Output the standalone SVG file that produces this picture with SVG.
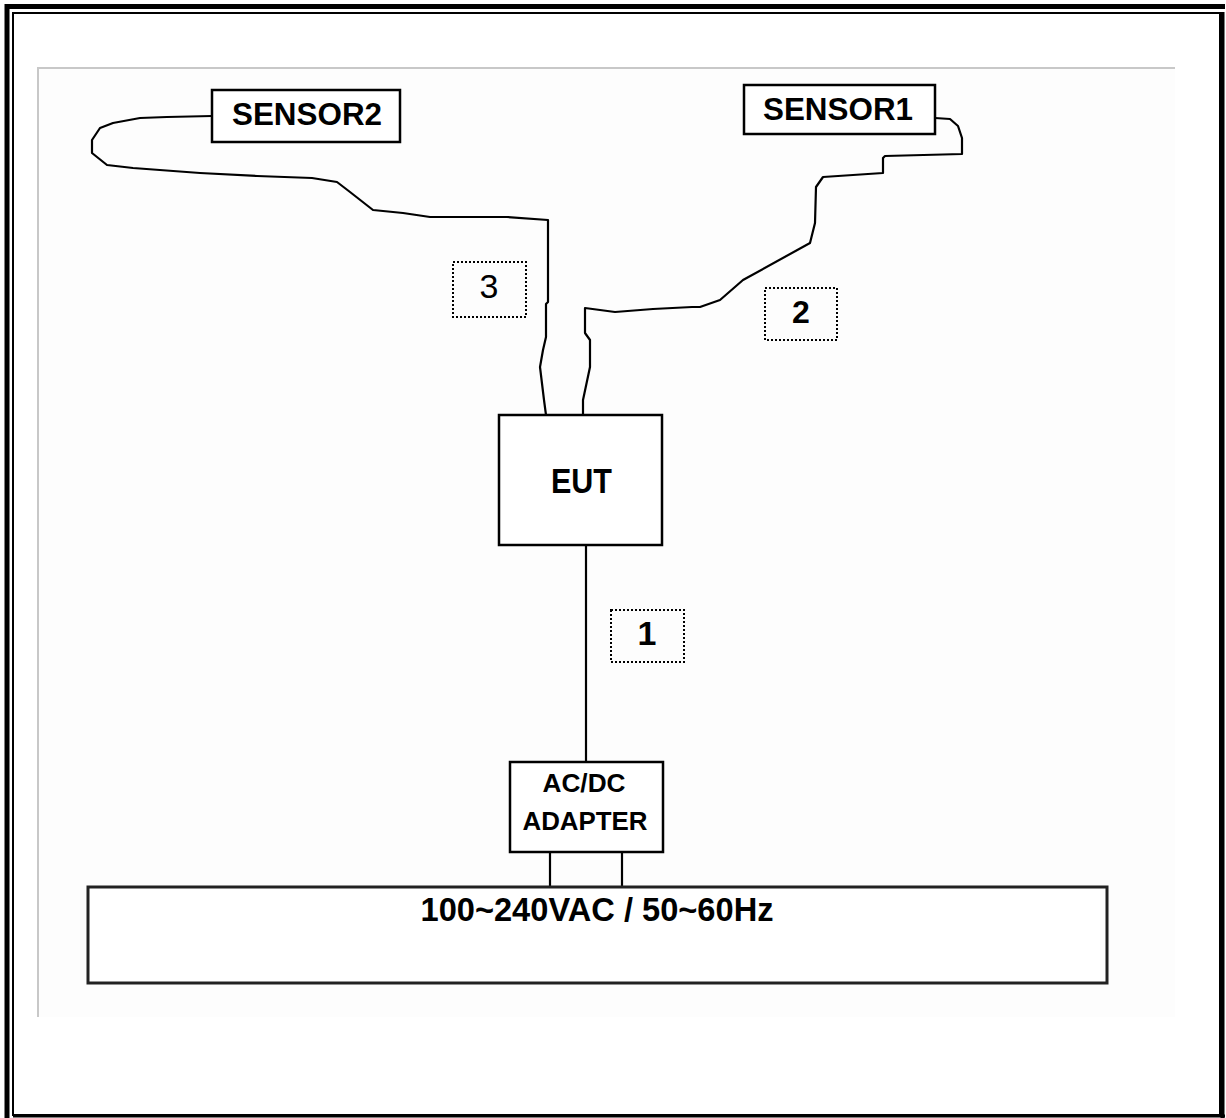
<svg xmlns="http://www.w3.org/2000/svg" width="1226" height="1118" viewBox="0 0 1226 1118">
<style>
.box{fill:#fff;stroke:#000;stroke-width:2.5}
.tag{fill:none;stroke:#000;stroke-width:2;stroke-dasharray:2 2}
.wire{fill:none;stroke:#000;stroke-width:2.2;stroke-linejoin:round}
.t{font-family:"Liberation Sans",Arial,sans-serif;font-weight:bold;fill:#000;text-anchor:middle}
</style>
<rect width="1226" height="1118" fill="#fff"/>
<g id="frame">
<rect x="13" y="13" width="1207" height="1102" fill="none" stroke="#000" stroke-width="2"/>
<line x1="5" y1="6.5" x2="1225" y2="6.5" stroke="#000" stroke-width="5"/>
<line x1="7" y1="4" x2="7" y2="1118" stroke="#000" stroke-width="5"/>
<line x1="1222.5" y1="12" x2="1222.5" y2="1118" stroke="#000" stroke-width="4"/>
<line x1="13" y1="1116" x2="1225" y2="1116" stroke="#000" stroke-width="3"/>
<rect x="38" y="69" width="1137" height="948" fill="#fdfdfd"/>
<path d="M38 1017 V68 H1175" fill="none" stroke="#c8c8c8" stroke-width="2"/>
</g>
<g id="connectors">
<path class="wire" d="M212 116 L167 117 L140 118 L113 123 L100 128 L92 140 L92 153 L107 165 L133 168 L200 173 L257 176 L312 178 L337 182 L350 192 L373 210 L393 212 L403 213 L430 217 L507 217 L548 220 L548 302 L546 304 L546 337 L543 350 L540 367 L544 400 L546 415"/>
<path class="wire" d="M935 118 L950 119 L958 126 L962 138 L962 154 L885 156 L883 158 L883 173 L853 175 L823 177 L816 187 L815 223 L810 243 L743 280 L720 300 L700 307 L692 307 L653 309 L615 312 L585 308 L585 333 L590 340 L590 367 L583 400 L583 418"/>
<line class="wire" x1="586" y1="545" x2="586" y2="762"/>
<line class="wire" x1="550" y1="852" x2="550" y2="887"/>
<line class="wire" x1="622" y1="852" x2="622" y2="887"/>
</g>
<g id="sensor2">
<rect class="box" x="212" y="90" width="188" height="52"/>
<text class="t" x="307" y="125" font-size="32" textLength="150" lengthAdjust="spacingAndGlyphs">SENSOR2</text>
</g>
<g id="sensor1">
<rect class="box" x="744" y="85" width="191" height="49"/>
<text class="t" x="838" y="120" font-size="32" textLength="150" lengthAdjust="spacingAndGlyphs">SENSOR1</text>
</g>
<g id="eut">
<rect class="box" x="499" y="415" width="163" height="130"/>
<text class="t" x="581.5" y="493" font-size="35" textLength="61" lengthAdjust="spacingAndGlyphs">EUT</text>
</g>
<g id="adapter">
<rect class="box" x="510" y="762" width="153" height="90"/>
<text class="t" x="584" y="792" font-size="26" textLength="83" lengthAdjust="spacingAndGlyphs">AC/DC</text>
<text class="t" x="585" y="830" font-size="26" textLength="125" lengthAdjust="spacingAndGlyphs">ADAPTER</text>
</g>
<g id="mains">
<rect x="88" y="887" width="1019" height="96" fill="#fff" stroke="#222" stroke-width="3"/>
<text class="t" x="597" y="921" font-size="34" textLength="353" lengthAdjust="spacingAndGlyphs">100~240VAC / 50~60Hz</text>
</g>
<g id="label1">
<rect class="tag" x="611" y="610" width="73" height="52"/>
<text class="t" x="647" y="645" font-size="34">1</text>
</g>
<g id="label2">
<rect class="tag" x="765" y="288" width="72" height="52"/>
<text class="t" x="801" y="323" font-size="32">2</text>
</g>
<g id="label3">
<rect class="tag" x="453" y="262" width="73" height="55"/>
<text class="t" x="489" y="298" font-size="34" style="font-weight:normal">3</text>
</g>
</svg>
